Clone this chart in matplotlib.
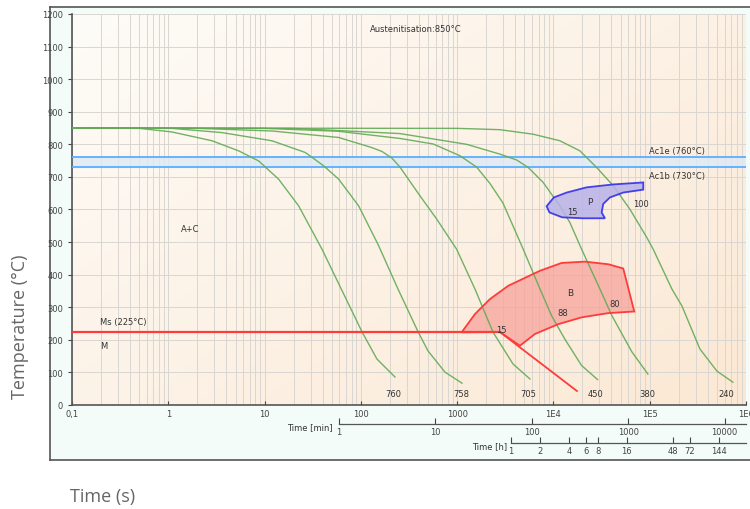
import matplotlib
matplotlib.use("Agg")
import matplotlib.pyplot as plt
import numpy as np
from matplotlib.patches import Polygon

# cooling curves: time [s], temperature [C]
c760_t = [0.1, 0.5, 1.09, 2.84, 5.38, 8.69, 14, 22.6, 39.5, 103, 147, 226]
c760_T = [850, 849, 838, 811, 780, 749, 693, 611, 478, 224, 141, 86]
c758_t = [0.1, 1.09, 3.61, 11.9, 26.5, 41.1, 58.9, 94.9, 153, 243, 394, 498, 747, 1122]
c758_T = [850, 849, 836, 811, 775, 734, 693, 611, 489, 356, 224, 166, 101, 67]
c705_t = [0.1, 2, 11.9, 58.9, 130, 166, 210, 255, 411, 612, 988, 1531, 2355, 3800, 5700]
c705_T = [850, 849, 841, 821, 790, 778, 758, 730, 642, 571, 478, 356, 224, 126, 80]
c450_t = [0.1, 10, 58.9, 255, 565, 1069, 1596, 2190, 2990, 3800, 4855, 7250,
          9570, 13150, 19630, 28750]
c450_T = [850, 849, 840, 818, 801, 765, 730, 680, 620, 550, 478, 356,
          274, 202, 121, 78]
c380_t = [0.1, 20, 255, 1256, 2780, 4150, 5470, 7830, 11660, 14820, 19630,
          30400, 40500, 65300, 95700]
c380_T = [850, 849, 833, 800, 770, 752, 729, 683, 611, 560, 478,
          356, 274, 163, 95]
c240_t = [0.1, 1000, 2780, 6170, 11660, 18850, 28100, 41800, 62200, 92900,
          108700, 170000, 216000, 332000, 499000, 731000]
c240_T = [850, 849, 845, 831, 811, 780, 729, 673, 601, 515,
          478, 356, 304, 172, 104, 70]
curve_labels = ["760", "758", "705", "450", "380", "240"]
label_t = [215, 1094, 5430, 27600, 93500, 618000]

# bainite region
bain_t = [1114, 1531, 2190, 3400, 7250, 12170, 21230, 37100, 53100, 69100,
          37100, 19630, 11200, 6430, 4490, 2780]
bain_T = [223, 279, 325, 366, 412, 436, 440, 432, 419, 287,
          282, 269, 248, 218, 182, 224]
# pearlite region
pearl_t = [85700, 41800, 22100, 13700, 10100, 8490, 9100, 12300, 20300, 34300,
           31700, 32900, 38600, 53100, 85700]
pearl_T = [683, 677, 668, 652, 637, 610, 591, 576, 573, 573,
           591, 617, 637, 652, 661]

ms_t = [0.1, 2780]
ms_T = [225, 225]
ms_tail_t = [2780, 17540]
ms_tail_T = [224, 43]

ac1e = 760
ac1b = 730

x_ticks = [0.1, 1, 10, 100, 1000, 1e4, 1e5, 1e6]
x_ticklabels = ["0,1", "1", "10", "100", "1000", "1E4", "1E5", "1E6"]
min_ticks = [1, 10, 100, 1000, 10000]
h_ticks = [1, 2, 4, 6, 8, 16, 48, 72, 144]

GREEN = "#62aa55"
RED = "#ff3b3b"
BLUE = "#2828e6"
TXT = "#333333"


def main():
    fig = plt.figure(figsize=(7.5, 5.1), dpi=100)
    plt.rcParams['font.family'] = ['DejaVu Sans']

    # outer panel (background axes)
    bg = fig.add_axes([50 / 750, 49 / 510, 0.96, 453 / 510], zorder=-1)
    bg.set_facecolor("#f3fcf8")
    bg.set_xticks([])
    bg.set_yticks([])
    for s in bg.spines.values():
        s.set_color("#555555")
        s.set_linewidth(1.2)

    ax = fig.add_axes([72 / 750, 104 / 510, 674 / 750, 391 / 510])
    ax.set_xscale("log")
    ax.set_xlim(0.1, 1e6)
    ax.set_ylim(0, 1200)

    # background gradient
    gx, gy = np.meshgrid(np.linspace(0, 1, 200), np.linspace(0, 1, 200))
    w = np.clip(0.55 * gx + 0.45 * (1 - gy), 0, 1)[..., None]
    c0 = np.array([254, 252, 248]) / 255
    c1 = np.array([251, 232, 212]) / 255
    img = c0 * (1 - w) + c1 * w
    ax.imshow(img, extent=[0, 1, 0, 1], transform=ax.transAxes, aspect="auto",
              origin="lower", zorder=0)
    ax.set_facecolor("none")

    ax.set_yticks(range(0, 1201, 100))
    ax.set_xticks(x_ticks)
    ax.set_xticklabels(x_ticklabels)
    ax.xaxis.set_minor_formatter(plt.NullFormatter())
    ax.tick_params(axis="both", labelsize=6, colors="#444444", length=3, width=0.8)
    ax.tick_params(axis="x", direction="in", which="major", pad=3)
    ax.tick_params(axis="x", which="minor", length=0)
    ax.grid(True, which="both", color="#d9d6d2", linewidth=0.7, zorder=1)
    ax.set_axisbelow(True)
    for s in ["top", "right"]:
        ax.spines[s].set_visible(False)
    for s in ["left", "bottom"]:
        ax.spines[s].set_color("#555555")
        ax.spines[s].set_linewidth(1.2)

    # Ac1 band
    ax.axhspan(ac1b, ac1e, color="#dde9f5", alpha=0.8, zorder=2)
    ax.axhline(ac1e, color="#5aaeff", linewidth=1.3, zorder=3)
    ax.axhline(ac1b, color="#5aaeff", linewidth=1.3, zorder=3)
    ax.text(9.8e4, 780, "Ac1e (760°C)", fontsize=6, color=TXT, va="center")
    ax.text(9.8e4, 703, "Ac1b (730°C)", fontsize=6, color=TXT, va="center")

    # transformation regions
    ax.add_patch(Polygon(list(zip(bain_t, bain_T)), closed=True, facecolor="#f6a39c",
                         alpha=0.75, edgecolor="none", zorder=3))
    ax.add_patch(Polygon(list(zip(bain_t, bain_T)), closed=True, fill=False,
                         edgecolor=RED, linewidth=1.3, zorder=5))
    ax.plot(ms_t, ms_T, color=RED, linewidth=1.6, zorder=5)
    ax.plot(ms_tail_t, ms_tail_T, color=RED, linewidth=1.3, zorder=5)

    ax.add_patch(Polygon(list(zip(pearl_t, pearl_T)), closed=True, facecolor="#b8b2ea",
                         alpha=0.85, edgecolor=BLUE, linewidth=1.3, zorder=5))

    # cooling curves
    curves = [(c760_t, c760_T), (c758_t, c758_T), (c705_t, c705_T),
              (c450_t, c450_T), (c380_t, c380_T), (c240_t, c240_T)]
    for t, T in curves:
        ax.plot(t, T, color=GREEN, linewidth=1.0, alpha=0.9, zorder=4)
    for lab, t in zip(curve_labels, label_t):
        ax.text(t, 34, lab, fontsize=6, color=TXT, ha="center", va="center", zorder=6)

    # annotations
    ax.text(124, 1156, "Austenitisation:850°C", fontsize=6, color=TXT, va="center")
    ax.text(1.68, 543, "A+C", fontsize=6, color=TXT, ha="center", va="center")
    ax.text(0.195, 255, "Ms (225°C)", fontsize=6, color=TXT, va="center")
    ax.text(0.195, 184, "M", fontsize=6, color=TXT, va="center")
    ax.text(23900, 626, "P", fontsize=6.5, color=TXT, ha="center", va="center", zorder=6)
    ax.text(15550, 595, "15", fontsize=6, color=TXT, ha="center", va="center", zorder=6)
    ax.text(81100, 617, "100", fontsize=6, color=TXT, ha="center", va="center", zorder=6)
    ax.text(14800, 344, "B", fontsize=6.5, color=TXT, ha="center", va="center", zorder=6)
    ax.text(12560, 285, "88", fontsize=6, color=TXT, ha="center", va="center", zorder=6)
    ax.text(43600, 310, "80", fontsize=6, color=TXT, ha="center", va="center", zorder=6)
    ax.text(2850, 233, "15", fontsize=6, color=TXT, ha="center", va="center", zorder=6)

    # secondary time scales
    ax_min = fig.add_axes([339 / 750, 85 / 510, 407 / 750, 0.001])
    ax_h = fig.add_axes([511 / 750, 66 / 510, 235 / 750, 0.001])
    for a, lim, ticks, name in [(ax_min, (1, 1e6 / 60), min_ticks, "Time [min]"),
                                (ax_h, (1, 1e6 / 3600), h_ticks, "Time [h]")]:
        a.set_xscale("log")
        a.set_xlim(*lim)
        a.set_facecolor("none")
        a.set_yticks([])
        for s in ["top", "left", "right"]:
            a.spines[s].set_visible(False)
        a.spines["bottom"].set_color("#555555")
        a.spines["bottom"].set_linewidth(0.9)
        a.set_xticks(ticks)
        a.set_xticklabels([str(v) for v in ticks])
        a.xaxis.set_minor_locator(plt.NullLocator())
        a.tick_params(axis="x", direction="in", length=4, width=0.8,
                      labelsize=6, colors="#444444", pad=2)
        a.text(-0.015, -6, name, transform=a.transAxes, fontsize=6, color=TXT,
               ha="right", va="center")

    fig.text(20 / 750, 0.359, "Temperature (°C)", rotation=90, fontsize=13,
             color="#666666", ha="center", va="center", family="Open Sans")
    fig.text(70 / 750, 0.025, "Time (s)", fontsize=13, color="#666666",
             ha="left", va="center", family="Open Sans")

    fig.savefig("out.png", dpi=100)


if __name__ == "__main__":
    main()
